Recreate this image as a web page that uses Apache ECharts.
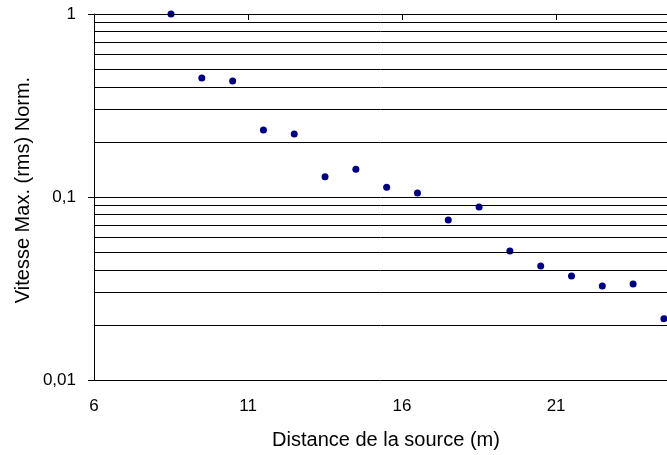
<!DOCTYPE html>
<html><head><meta charset="utf-8">
<script src="https://cdn.jsdelivr.net/npm/echarts@6/dist/echarts.min.js"></script>
<style>html,body{margin:0;padding:0;background:#fff}#c{width:667px;height:455px}</style>
</head><body><div id="c"></div>
<script>
var distances = [8.5, 9.5, 10.5, 11.5, 12.5, 13.5, 14.5, 15.5, 16.5, 17.5, 18.5, 19.5, 20.5, 21.5, 22.5, 23.5, 24.5];
var vitesse = [1.0, 0.447, 0.430, 0.232, 0.221, 0.129, 0.142, 0.113, 0.105, 0.0749, 0.0882, 0.0507, 0.0420, 0.0370, 0.0326, 0.0335, 0.0216];
var gridValues = [0.02, 0.03, 0.04, 0.05, 0.06, 0.07, 0.08, 0.09, 0.1, 0.2, 0.3, 0.4, 0.5, 0.6, 0.7, 0.8, 0.9, 1];
var xTicks = [6, 11, 16, 21];
var yTickLabels = {'-2': '0,01', '-1': '0,1', '0': '1'};
var xTitle = 'Distance de la source (m)';
var yTitle = 'Vitesse Max. (rms) Norm.';

var font = 'Liberation Sans, Arial, sans-serif';
var chart = echarts.init(document.getElementById('c'));
var xCommon = {type: 'value', min: 6, max: 24.6, interval: 5};
chart.setOption({
  animation: false,
  grid: {left: 94, top: 14, right: 0, bottom: 75, containLabel: false},
  xAxis: [
    Object.assign({}, xCommon, {
      position: 'bottom',
      axisLine: {show: true, onZero: false, lineStyle: {color: '#000', width: 1}},
      axisTick: {show: false},
      splitLine: {show: false},
      axisLabel: {color: '#000', fontSize: 17, fontFamily: font, margin: 18,
        showMaxLabel: false,
        formatter: function (v) { return xTicks.indexOf(v) >= 0 ? String(v) : ''; }}
    }),
    Object.assign({}, xCommon, {
      position: 'top',
      axisLine: {show: false},
      axisTick: {show: true, inside: true, length: 6, lineStyle: {color: '#000'}},
      axisLabel: {show: false},
      splitLine: {show: false}
    })
  ],
  yAxis: {
    type: 'log', logBase: 10, min: 0.01, max: 1,
    axisLine: {show: true, lineStyle: {color: '#000', width: 1}},
    axisTick: {show: true, length: 6, lineStyle: {color: '#000'}},
    splitLine: {show: false},
    axisLabel: {color: '#000', fontSize: 17, fontFamily: font, margin: 18,
      formatter: function (v) { return yTickLabels[String(Math.round(Math.log10(v)))]; }}
  },
  graphic: [
    {type: 'text', x: 386, y: 440,
      style: {text: xTitle, fill: '#000', font: '20px ' + font, textAlign: 'center', textVerticalAlign: 'middle'}},
    {type: 'text', x: 23, y: 190, rotation: Math.PI / 2,
      style: {text: yTitle, fill: '#000', font: '20px ' + font, textAlign: 'center', textVerticalAlign: 'middle'}}
  ],
  series: [{
    type: 'scatter',
    xAxisIndex: 0,
    data: distances.map(function (d, i) { return [d, vitesse[i]]; }),
    symbol: 'circle', symbolSize: 7,
    itemStyle: {color: '#000080', opacity: 1},
    z: 3,
    markLine: {
      silent: true, symbol: ['none', 'none'], label: {show: false},
      lineStyle: {color: '#000', width: 1, type: 'solid'},
      data: gridValues.map(function (g) { return {yAxis: g}; })
    }
  }]
});
</script></body></html>
